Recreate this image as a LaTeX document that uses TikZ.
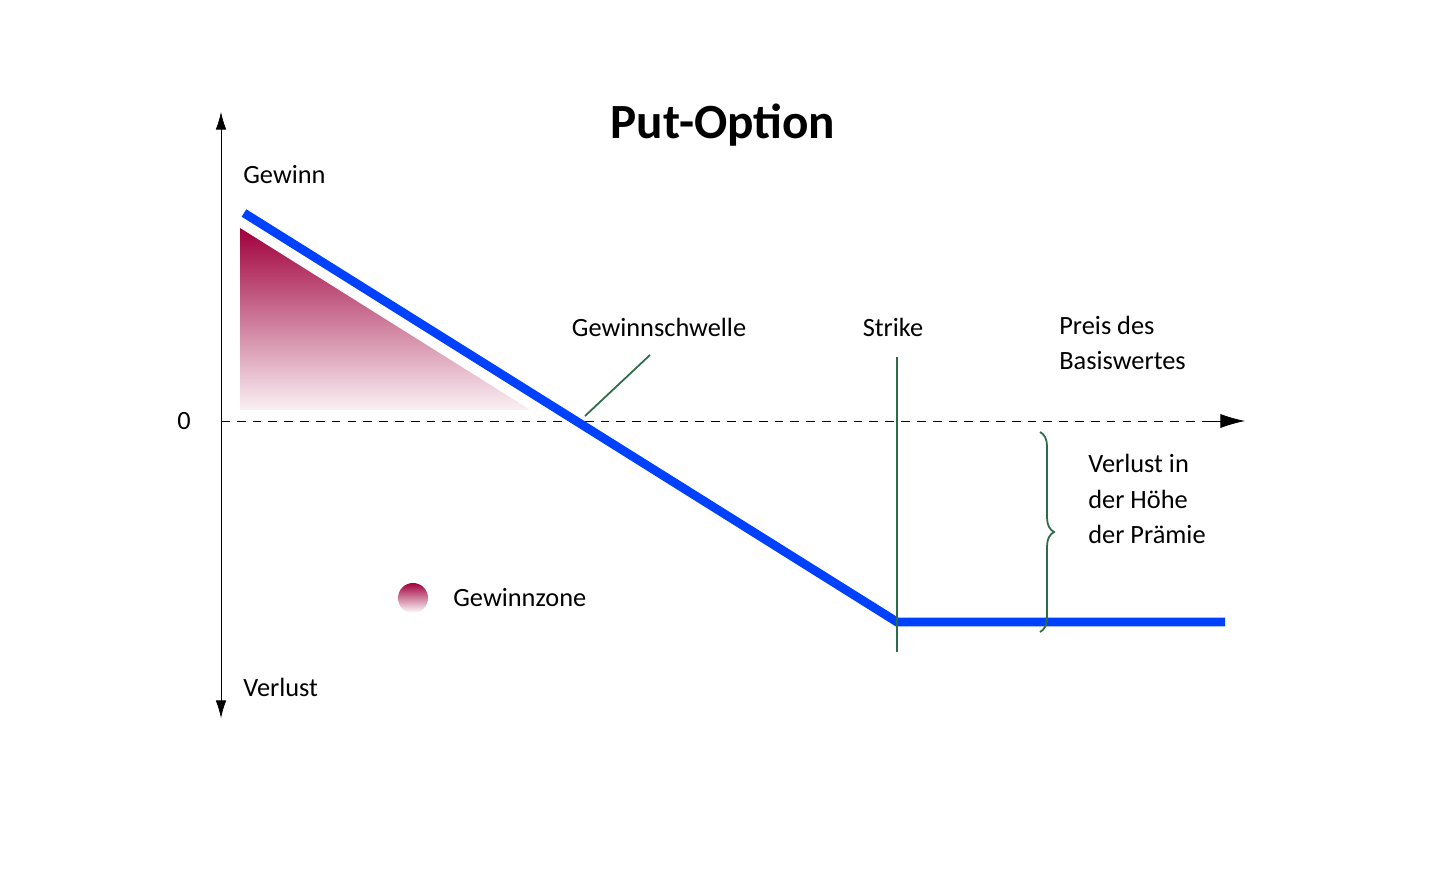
\documentclass[tikz,border=0pt]{standalone}
\usepackage{fontspec}
\setmainfont{Carlito}
\usetikzlibrary{positioning}
\usetikzlibrary{arrows.meta}
\usetikzlibrary{decorations.pathreplacing}
\definecolor{myblue}{HTML}{0040FF}
\definecolor{mygreen}{HTML}{2E6B4A}
\definecolor{myred}{HTML}{A0003C}
\tikzset{
  lbl/.style={font=\fontsize{15}{18}\selectfont, align=left, inner sep=0pt},
}
\begin{document}
\begin{tikzpicture}
  \useasboundingbox (0,0) rectangle (29,17.4);

  % gain zone
  \shade[top color=myred, bottom color=white, middle color=myred!50]
    (4.8,12.84) -- (4.8,8.98) -- (10.96,8.98) -- cycle;
  \fill[white] (4.8,9.2) rectangle (11.2,8.98);

  \coordinate (ytop) at (4.42,15.16);
  \coordinate (ybot) at (4.42,3.04);
  \coordinate (x0) at (4.42,8.98);
  \coordinate (xend) at (24.9,8.98);

  \draw[-{Latex[length=10pt,width=6pt]}] (x0) -- (ytop);
  \draw[-{Latex[length=10pt,width=6pt]}] (x0) -- (ybot);
  \draw[dashed, dash pattern=on 5pt off 4pt] (x0) -- (24.1,8.98);
  \draw[-{Latex[length=14pt,width=8pt]}] (24.1,8.98) -- (xend);

  % payoff
  \coordinate (p0) at (4.88,13.14);
  \coordinate (pk) at (17.94,4.96);
  \coordinate (p1) at (24.5,4.96);
  \draw[myblue, line width=5pt] (p0) -- (pk) -- (p1);

  \coordinate (s0) at (17.94,10.26);
  \coordinate (s1) at (17.94,4.36);
  \draw[mygreen, line width=1pt] (s0) -- (s1);
  \coordinate (g0) at (13,10.3);
  \coordinate (g1) at (11.7,9.08);
  \draw[mygreen, line width=1pt] (g0) -- (g1);

  \coordinate (b0) at (20.8,8.76);
  \coordinate (b1) at (20.8,4.76);
  \draw[mygreen, line width=1pt, decorate,
    decoration={brace, amplitude=8pt}] (b0) -- (b1);

  \node[font=\fontsize{28}{32}\selectfont\bfseries] (title) at (14.46,14.9) {Put-Option};
  \node[lbl, anchor=west] (gewinn) at (4.86,13.9) {Gewinn};
  \node[lbl, anchor=west] (verlust) at (4.86,3.66) {Verlust};
  \node[lbl] (null) at (3.68,8.98) {0};
  \node[lbl] (schwelle) at (13.18,10.86) {Gewinnschwelle};
  \node[lbl] (strike) at (17.86,10.86) {Strike};
  \node[lbl, anchor=west] (preis) at (21.18,10.54) {Preis des\\[2pt]Basiswertes};
  \node[lbl, anchor=west] (praemie) at (21.76,7.42) {Verlust in\\[2pt]der Höhe\\[2pt]der Prämie};

  \shade[top color=myred, bottom color=white] (8.26,5.44) circle (0.3);
  \node[lbl, anchor=west] (zone) at (9.06,5.44) {Gewinnzone};
\end{tikzpicture}
\end{document}
